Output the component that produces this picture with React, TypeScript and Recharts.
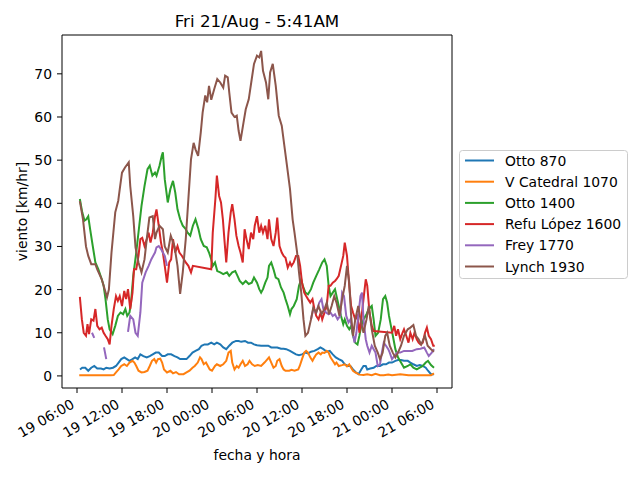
import React from 'react';
import { LineChart, Line, XAxis, YAxis, Legend, Label } from 'recharts';

const FONT = '"DejaVu Sans", sans-serif';

const tickHours = [6, 12, 18, 24, 30, 36, 42, 48, 54];
const tickLabels = ['19 06:00', '19 12:00', '19 18:00', '20 00:00', '20 06:00', '20 12:00', '20 18:00', '21 00:00', '21 06:00'];
const yTicks = [0, 10, 20, 30, 40, 50, 60, 70];
const seriesNames = ['Otto 870', 'V Catedral 1070', 'Otto 1400', 'Refu López 1600', 'Frey 1770', 'Lynch 1930'];
const seriesColors = ['#1f77b4', '#ff7f0e', '#2ca02c', '#d62728', '#9467bd', '#8c564b'];
const titleText = 'Fri 21/Aug - 5:41AM';

// [hours since 19 00:00, km/hr]
const otto870: [number, number][] = [
  [6.4,1.5],[6.7,1.9],[7.1,1.9],[7.5,1.2],[7.9,1.9],[8.3,2.3],[8.7,1.7],[9.2,1.7],[9.55,1.5],[9.9,1.9],[10.35,1.7],[10.8,1.9],[11.2,2.3],[11.55,3.1],[11.9,3.9],[12.3,4.3],[12.65,3.9],[13.0,3.5],[13.4,3.9],[13.75,4.3],[14.1,3.9],[14.45,5.0],[14.85,4.6],[15.3,4.3],[15.7,4.6],[16.1,5.0],[16.5,5.4],[16.9,5.4],[17.35,4.6],[17.7,4.6],[18.1,5.0],[18.55,5.0],[19.0,4.6],[19.4,4.3],[19.75,3.9],[20.2,3.9],[20.6,3.9],[21.0,4.6],[21.4,5.4],[21.8,5.8],[22.25,6.2],[22.6,7.0],[23.0,7.3],[23.45,7.3],[23.9,7.7],[24.3,7.3],[24.65,7.7],[25.1,7.3],[25.5,6.6],[25.9,6.2],[26.3,7.0],[26.7,7.7],[27.2,8.1],[27.55,8.1],[27.9,7.9],[28.4,8.1],[28.8,7.7],[29.2,7.7],[29.6,7.3],[30.0,7.1],[30.55,7.0],[31.1,7.0],[31.5,7.0],[31.9,6.6],[32.3,6.6],[32.7,6.6],[33.2,6.3],[33.55,6.3],[33.9,6.2],[34.4,5.8],[34.8,5.4],[35.2,5.0],[35.6,4.8],[36.0,5.0],[36.45,5.4],[36.8,5.2],[37.2,5.6],[37.65,5.8],[38.1,6.2],[38.45,6.6],[38.85,6.2],[39.3,5.6],[39.7,5.8],[40.1,5.0],[40.5,4.3],[40.9,3.9],[41.35,3.5],[41.7,2.7],[42.1,2.3],[42.45,2.3],[42.8,1.5],[43.2,0.8],[43.55,0.4],[43.9,1.5],[44.2,2.3],[44.5,2.3],[44.7,1.5],[45.1,1.7],[45.55,1.9],[45.9,2.3],[46.4,2.3],[46.8,2.7],[47.2,2.7],[47.6,3.1],[48.0,3.1],[48.45,3.5],[48.8,3.7],[49.2,3.7],[49.6,3.5],[50.1,3.5],[50.45,3.1],[50.85,2.7],[51.3,2.3],[51.7,2.5],[52.1,2.3],[52.5,1.9],[52.8,1.2],[53.2,0.4],[53.6,0.4],
];

const vCatedral1070: [number, number][] = [
  [6.3,0.15],[7.5,0.15],[8.5,0.15],[9.5,0.15],[10.5,0.15],[10.9,0.2],[11.2,0.8],[11.55,1.5],[11.9,2.3],[12.3,2.7],[12.65,2.3],[13.0,3.1],[13.4,3.5],[13.65,3.1],[13.9,2.3],[14.2,1.2],[14.6,0.8],[15.0,0.9],[15.4,1.2],[15.7,2.3],[16.0,3.5],[16.3,3.9],[16.55,3.1],[16.8,3.9],[17.1,4.0],[17.35,3.1],[17.6,1.5],[18.0,0.8],[18.45,1.2],[18.8,0.6],[19.2,0.9],[19.6,0.4],[20.2,0.4],[20.6,0.8],[21.0,1.2],[21.4,1.9],[21.7,2.3],[22.1,3.1],[22.4,4.3],[22.6,3.9],[22.9,2.7],[23.2,3.1],[23.45,2.3],[23.7,1.5],[24.0,1.2],[24.4,2.3],[24.65,2.7],[25.1,2.3],[25.5,2.7],[25.9,3.5],[26.2,5.4],[26.5,5.8],[26.7,3.1],[27.0,1.5],[27.3,2.3],[27.55,1.9],[27.8,2.7],[28.1,3.5],[28.4,2.3],[28.75,2.7],[29.0,3.5],[29.35,2.7],[29.7,2.3],[30.1,2.5],[30.55,2.3],[31.0,3.1],[31.4,3.9],[31.6,4.3],[31.9,3.1],[32.2,1.9],[32.5,2.3],[32.7,3.5],[33.0,3.9],[33.3,2.3],[33.55,1.5],[33.8,1.2],[34.3,1.2],[34.6,1.4],[35.0,1.2],[35.5,1.5],[35.7,2.3],[36.0,3.9],[36.3,5.4],[36.55,5.8],[36.8,5.4],[37.1,4.3],[37.4,3.5],[37.65,4.3],[37.9,5.0],[38.2,5.4],[38.5,5.0],[38.7,5.4],[39.0,5.3],[39.3,5.8],[39.55,5.4],[39.8,4.3],[40.1,3.5],[40.4,2.7],[40.6,3.1],[40.9,2.3],[41.35,2.5],[41.7,2.7],[42.0,2.2],[42.3,2.7],[42.55,1.9],[42.8,1.2],[43.1,0.8],[43.65,0.3],[44.2,0.2],[44.7,0.4],[45.3,0.15],[45.8,0.5],[46.4,0.15],[46.9,0.15],[47.5,0.3],[48.0,0.15],[49.1,0.4],[50.2,0.15],[51.3,0.15],[52.4,0.15],[53.2,0.15],[53.6,0.6],
];

const otto1400: [number, number][] = [
  [6.38,41.0],[6.7,37.9],[7.0,36.0],[7.25,36.3],[7.5,37.0],[7.75,34.0],[8.1,30.1],[8.45,26.3],[8.85,24.7],[9.3,22.4],[9.55,20.9],[9.8,17.8],[10.1,13.1],[10.35,10.8],[10.75,9.7],[11.1,11.6],[11.45,13.9],[11.8,14.7],[12.15,14.3],[12.45,15.5],[12.7,13.9],[13.0,14.7],[13.2,17.0],[13.5,23.2],[13.9,28.6],[14.3,34.8],[14.6,39.4],[15.0,44.0],[15.4,47.9],[15.7,48.7],[16.05,46.4],[16.4,47.1],[16.6,46.4],[17.0,48.7],[17.3,51.0],[17.45,51.8],[17.7,45.6],[18.1,40.2],[18.45,43.3],[18.8,45.2],[19.1,42.5],[19.4,38.6],[19.75,36.3],[20.1,34.8],[20.5,34.0],[20.75,33.2],[21.1,32.5],[21.45,34.8],[21.8,36.3],[22.2,34.0],[22.5,31.7],[22.9,30.1],[23.3,29.8],[23.6,28.6],[23.9,27.0],[24.1,25.5],[24.4,26.3],[24.7,24.3],[25.1,24.0],[25.5,23.6],[26.0,24.0],[26.3,23.2],[26.7,24.0],[27.1,24.3],[27.4,23.2],[27.7,22.0],[28.1,21.3],[28.5,22.0],[28.9,21.3],[29.3,21.6],[29.6,22.8],[30.0,21.6],[30.3,20.1],[30.55,19.3],[30.8,20.1],[31.1,21.6],[31.4,22.8],[31.6,25.5],[31.9,26.3],[32.2,24.7],[32.5,22.8],[32.85,22.4],[33.2,20.5],[33.55,19.3],[33.8,17.8],[34.1,16.2],[34.4,14.3],[34.6,15.5],[34.9,16.2],[35.3,17.8],[35.6,20.9],[35.9,22.4],[36.1,20.9],[36.45,19.3],[36.8,18.9],[37.2,20.1],[37.5,21.6],[37.9,23.2],[38.3,24.7],[38.7,26.3],[39.0,27.0],[39.3,25.5],[39.55,20.9],[39.8,18.5],[40.1,19.3],[40.4,20.1],[40.6,18.5],[40.9,16.2],[41.2,13.9],[41.5,12.0],[41.7,13.1],[42.0,11.6],[42.3,10.8],[42.55,11.6],[42.8,9.3],[43.1,7.7],[43.4,7.3],[43.65,9.3],[43.9,11.6],[44.2,13.1],[44.6,14.3],[44.9,15.5],[45.3,16.2],[45.55,13.1],[45.8,9.3],[46.15,10.0],[46.5,13.1],[46.8,17.8],[47.1,18.5],[47.35,17.0],[47.6,13.9],[47.9,11.2],[48.2,8.5],[48.45,6.2],[48.8,4.3],[49.2,3.1],[49.6,1.9],[50.1,2.3],[50.45,2.7],[50.85,1.9],[51.3,1.5],[51.7,1.9],[52.1,2.3],[52.5,3.1],[52.8,3.5],[53.2,2.5],[53.6,1.9],
];

const refuLopez1600: [number, number][] = [
  [6.38,18.3],[6.65,13.1],[6.9,10.0],[7.2,9.3],[7.4,12.0],[7.6,9.7],[7.9,13.1],[8.2,12.8],[8.45,15.5],[8.7,11.6],[9.0,10.8],[9.3,11.2],[9.55,10.0],[9.8,9.3],[10.1,8.5],[10.35,7.3],[10.6,11.6],[10.9,15.5],[11.2,18.5],[11.45,17.4],[11.7,18.5],[12.0,16.2],[12.3,19.7],[12.55,17.8],[12.8,20.1],[13.1,15.5],[13.4,19.3],[13.6,24.7],[13.9,24.7],[14.2,27.8],[14.45,31.7],[14.7,32.0],[15.0,30.1],[15.3,31.7],[15.55,33.2],[15.8,30.9],[16.1,33.2],[16.4,37.0],[16.6,38.6],[16.9,34.8],[17.2,30.9],[17.45,28.6],[17.7,25.5],[18.0,21.6],[18.3,26.3],[18.55,27.0],[18.8,31.7],[19.1,28.6],[19.4,30.1],[19.65,28.6],[20.0,27.8],[20.5,26.3],[20.85,25.5],[21.2,24.0],[21.45,25.5],[23.9,24.7],[24.1,33.2],[24.45,41.0],[24.65,46.4],[24.95,41.7],[25.2,40.2],[25.45,36.3],[25.65,31.7],[25.9,26.3],[26.2,33.2],[26.5,37.9],[26.7,39.8],[27.0,36.3],[27.25,32.5],[27.55,30.1],[27.8,28.6],[28.1,26.3],[28.35,34.0],[28.6,31.7],[28.9,29.4],[29.2,33.2],[29.5,31.7],[29.7,34.8],[30.0,37.0],[30.3,33.2],[30.55,34.8],[30.8,33.2],[31.1,34.8],[31.4,31.7],[31.6,36.3],[31.9,31.7],[32.2,30.1],[32.5,33.2],[32.7,36.7],[33.0,30.1],[33.3,28.6],[33.55,27.8],[33.8,27.4],[34.1,25.1],[34.4,26.3],[34.6,25.5],[34.9,26.3],[35.2,27.8],[35.5,27.8],[35.75,25.5],[36.0,21.6],[36.3,19.3],[36.55,18.5],[36.8,17.8],[37.1,17.0],[37.4,17.8],[37.65,15.5],[37.9,13.9],[38.2,13.1],[38.5,14.7],[38.7,13.1],[39.0,14.7],[39.3,16.2],[39.55,20.9],[39.8,20.9],[40.1,21.6],[40.4,22.0],[40.6,22.4],[40.9,23.2],[41.2,25.5],[41.5,27.8],[41.7,30.9],[42.0,27.8],[42.3,20.9],[42.55,16.2],[42.8,14.7],[43.1,13.1],[43.4,13.9],[43.65,10.0],[43.9,13.1],[44.2,17.8],[44.5,22.4],[44.7,20.9],[45.0,14.7],[45.3,11.6],[45.55,10.4],[48.0,10.0],[48.3,11.6],[48.55,9.3],[48.8,10.8],[49.1,8.5],[49.4,10.0],[49.6,10.8],[49.9,9.3],[50.2,7.7],[50.45,10.0],[50.75,8.5],[51.0,10.0],[51.3,8.5],[51.55,7.7],[51.8,7.3],[52.1,7.7],[52.4,10.0],[52.65,11.2],[52.9,9.3],[53.2,8.5],[53.5,7.0],[53.7,7.0],
];

const frey1770: [number, number | null][] = [
  [8.0,10.0],[8.3,8.8],[8.6,null],
  [9.6,6.6],[9.9,3.9],[11.0,null],
  [12.8,10.2],[13.1,13.9],[13.5,13.1],[13.8,10.0],[14.1,9.3],[14.45,14.7],[14.7,21.6],[15.15,24.0],[15.55,25.5],[15.9,27.0],[16.4,28.6],[16.6,29.8],[16.9,30.1],[17.2,29.4],[17.45,28.6],[17.7,27.8],[18.0,25.5],[20.0,null],
  [37.2,13.1],[37.5,15.5],[37.9,14.7],[38.3,17.0],[38.6,17.8],[38.85,15.5],[39.2,14.7],[39.55,14.3],[39.8,14.7],[40.1,13.9],[40.4,14.3],[40.75,13.1],[41.1,13.9],[41.35,19.3],[41.6,18.5],[41.9,13.9],[42.2,12.4],[42.45,13.1],[42.7,10.8],[43.0,7.7],[43.25,10.0],[43.5,13.9],[43.8,18.5],[44.0,19.3],[44.2,13.1],[44.5,8.5],[44.7,7.0],[45.0,5.4],[45.3,7.0],[45.55,6.2],[45.8,5.4],[46.1,2.3],[46.4,2.7],[46.65,5.4],[46.9,7.7],[47.2,7.0],[47.5,6.2],[47.7,5.4],[48.0,3.9],[48.3,4.6],[48.7,5.4],[49.1,5.4],[49.6,5.8],[50.2,5.8],[50.7,5.8],[51.3,6.2],[51.8,6.3],[52.3,6.6],[52.65,5.4],[52.9,4.6],[53.3,5.4],[53.6,6.2],
];

const lynch1930: [number, number][] = [
  [6.38,40.5],[6.8,36.3],[7.2,30.0],[7.5,27.8],[7.9,25.9],[8.45,25.9],[8.7,24.7],[9.3,22.4],[9.7,20.0],[10.0,18.2],[10.25,20.0],[10.6,28.6],[11.1,37.9],[11.5,40.6],[11.7,43.3],[12.0,47.1],[12.4,48.3],[12.9,49.5],[13.1,44.0],[13.5,37.0],[13.8,29.8],[14.2,26.3],[14.6,24.0],[15.0,27.0],[15.3,31.7],[15.65,36.7],[16.1,37.0],[16.4,31.7],[16.6,33.2],[17.0,34.8],[17.45,34.0],[17.7,30.0],[18.1,28.6],[18.5,32.5],[19.0,30.0],[19.4,25.5],[19.75,19.0],[20.1,24.0],[20.5,31.7],[20.85,41.0],[21.2,50.2],[21.55,54.0],[21.8,52.5],[22.15,51.0],[22.5,56.4],[22.75,61.0],[23.1,65.0],[23.35,63.4],[23.6,67.2],[23.9,64.0],[24.3,66.5],[24.7,68.8],[25.1,68.0],[25.5,66.8],[25.75,69.6],[26.1,69.2],[26.3,65.7],[26.6,61.0],[27.0,60.0],[27.3,60.3],[27.55,56.8],[27.8,54.5],[28.2,58.7],[28.5,61.8],[28.9,64.1],[29.3,68.8],[29.6,72.3],[30.0,74.2],[30.3,73.8],[30.55,75.3],[30.8,70.7],[31.2,68.0],[31.5,64.1],[31.75,70.3],[32.1,72.3],[32.5,67.2],[32.9,60.3],[33.3,58.0],[33.65,53.3],[34.0,48.7],[34.4,43.3],[34.75,36.3],[35.0,33.2],[35.35,28.6],[35.6,24.0],[35.9,19.3],[36.2,13.1],[36.45,9.3],[36.8,10.0],[37.2,13.1],[37.5,15.8],[37.9,14.7],[38.2,16.2],[38.6,14.3],[39.0,15.5],[39.3,17.0],[39.6,14.3],[39.95,16.2],[40.3,18.5],[40.6,17.0],[41.0,13.9],[41.35,17.8],[41.7,20.9],[42.0,25.5],[42.3,21.6],[42.55,13.9],[42.8,9.3],[43.1,13.1],[43.5,16.2],[43.8,13.1],[44.2,10.0],[44.6,13.1],[44.9,16.2],[45.3,10.8],[45.7,7.0],[46.1,5.4],[46.4,3.9],[46.75,5.4],[47.1,9.3],[47.35,10.0],[47.7,7.0],[48.1,5.4],[48.45,4.3],[48.8,5.4],[49.2,7.0],[49.6,9.3],[50.1,10.8],[50.45,11.2],[50.85,11.8],[51.2,9.3],[51.55,8.5],[51.9,7.3],[52.4,9.3],[52.75,7.0],[53.2,6.2],[53.6,5.6],
];

const seriesPoints = [otto870, vCatedral1070, otto1400, refuLopez1600, frey1770, lynch1930];
const seriesRows = seriesPoints.map((pts) => pts.map(([t, v]) => ({ t, v })));

const XTick = (props: any) => {
  const { x, payload } = props;
  const i = tickHours.indexOf(payload.value);
  const ax = x - 1.6;
  const ay = 407;
  return (
    <text x={ax} y={ay} transform={`rotate(-30 ${ax} ${ay})`} textAnchor="end" fontSize={13.9} fontFamily={FONT} fill="#000">
      {tickLabels[i]}
    </text>
  );
};

const LegendBox = () => (
  <svg width={170} height={130} style={{ display: 'block' }}>
    <rect x={0.5} y={0.5} width={168} height={128} rx={3} ry={3} fill="#fff" fillOpacity={0.8} stroke="#cccccc" strokeWidth={1} />
    {seriesNames.map((n, i) => {
      const cy = 10.5 + 21.2 * i;
      return (
        <g key={n}>
          <line x1={6} x2={35} y1={cy} y2={cy} stroke={seriesColors[i]} strokeWidth={2} />
          <text x={46} y={cy} dy="0.36em" fontSize={13.9} fontFamily={FONT} fill="#000">{n}</text>
        </g>
      );
    })}
  </svg>
);

export default function App() {
  return (
    <div style={{ position: 'absolute', left: 0, top: 0, width: 640, height: 480, background: '#fff' }}>
      <div
        style={{
          position: 'absolute',
          left: 62,
          top: 11,
          width: 390,
          textAlign: 'center',
          fontFamily: FONT,
          fontSize: 16.7,
          lineHeight: '20px',
          color: '#000',
          zIndex: 2,
        }}
      >
        {titleText}
      </div>
      <LineChart width={640} height={480} margin={{ top: 34, right: 187, bottom: 0, left: 0 }} style={{ fontFamily: FONT }}>
        <XAxis
          xAxisId="main"
          type="number"
          dataKey="t"
          domain={[4, 56]}
          allowDataOverflow
          ticks={tickHours}
          interval={0}
          height={92}
          tickSize={5}
          tick={<XTick />}
          axisLine={{ stroke: '#000', strokeWidth: 1 }}
          tickLine={{ stroke: '#000', strokeWidth: 1 }}
        >
          <Label
            content={(p: any) => {
              const vb = p.viewBox;
              return (
                <text x={vb.x + vb.width / 2} y={vb.y + 72} textAnchor="middle" fontSize={13.9} fontFamily={FONT} fill="#000">
                  fecha y hora
                </text>
              );
            }}
          />
        </XAxis>
        <XAxis
          xAxisId="top"
          orientation="top"
          type="number"
          dataKey="t"
          domain={[4, 56]}
          allowDataOverflow
          height={1}
          ticks={tickHours}
          tick={false}
          tickLine={false}
          axisLine={{ stroke: '#000', strokeWidth: 1 }}
        />
        <YAxis
          yAxisId="main"
          type="number"
          domain={[-2.8, 79]}
          allowDataOverflow
          ticks={yTicks}
          interval={0}
          width={62}
          tickSize={5}
          tickMargin={5}
          tick={{ fontSize: 13.9, fill: '#000', fontFamily: FONT }}
          axisLine={{ stroke: '#000', strokeWidth: 1 }}
          tickLine={{ stroke: '#000', strokeWidth: 1 }}
        >
          <Label
            content={(p: any) => {
              const vb = p.viewBox;
              const cx = 22;
              const cy = vb.y + vb.height / 2;
              return (
                <text x={cx} y={cy} transform={`rotate(-90 ${cx} ${cy})`} textAnchor="middle" dominantBaseline="central" fontSize={13.9} fontFamily={FONT} fill="#000">
                  viento [km/hr]
                </text>
              );
            }}
          />
        </YAxis>
        <YAxis
          yAxisId="right"
          orientation="right"
          type="number"
          domain={[-2.8, 79]}
          allowDataOverflow
          width={1}
          ticks={yTicks}
          tick={false}
          tickLine={false}
          axisLine={{ stroke: '#000', strokeWidth: 1 }}
        />
        {seriesRows.map((rows, i) => (
          <Line
            key={seriesNames[i]}
            xAxisId="main"
            yAxisId="main"
            data={rows}
            dataKey="v"
            name={seriesNames[i]}
            type="linear"
            stroke={seriesColors[i]}
            strokeWidth={2}
            dot={false}
            activeDot={false}
            connectNulls={false}
            isAnimationActive={false}
          />
        ))}
        <Line
          xAxisId="top"
          yAxisId="right"
          data={[]}
          dataKey="v"
          stroke="none"
          dot={false}
          activeDot={false}
          legendType="none"
          isAnimationActive={false}
        />
        <Legend
          layout="horizontal"
          align="center"
          verticalAlign="middle"
          wrapperStyle={{ position: 'absolute', left: 459, top: 150, width: 170, height: 130 }}
          content={() => <LegendBox />}
        />
      </LineChart>
    </div>
  );
}
